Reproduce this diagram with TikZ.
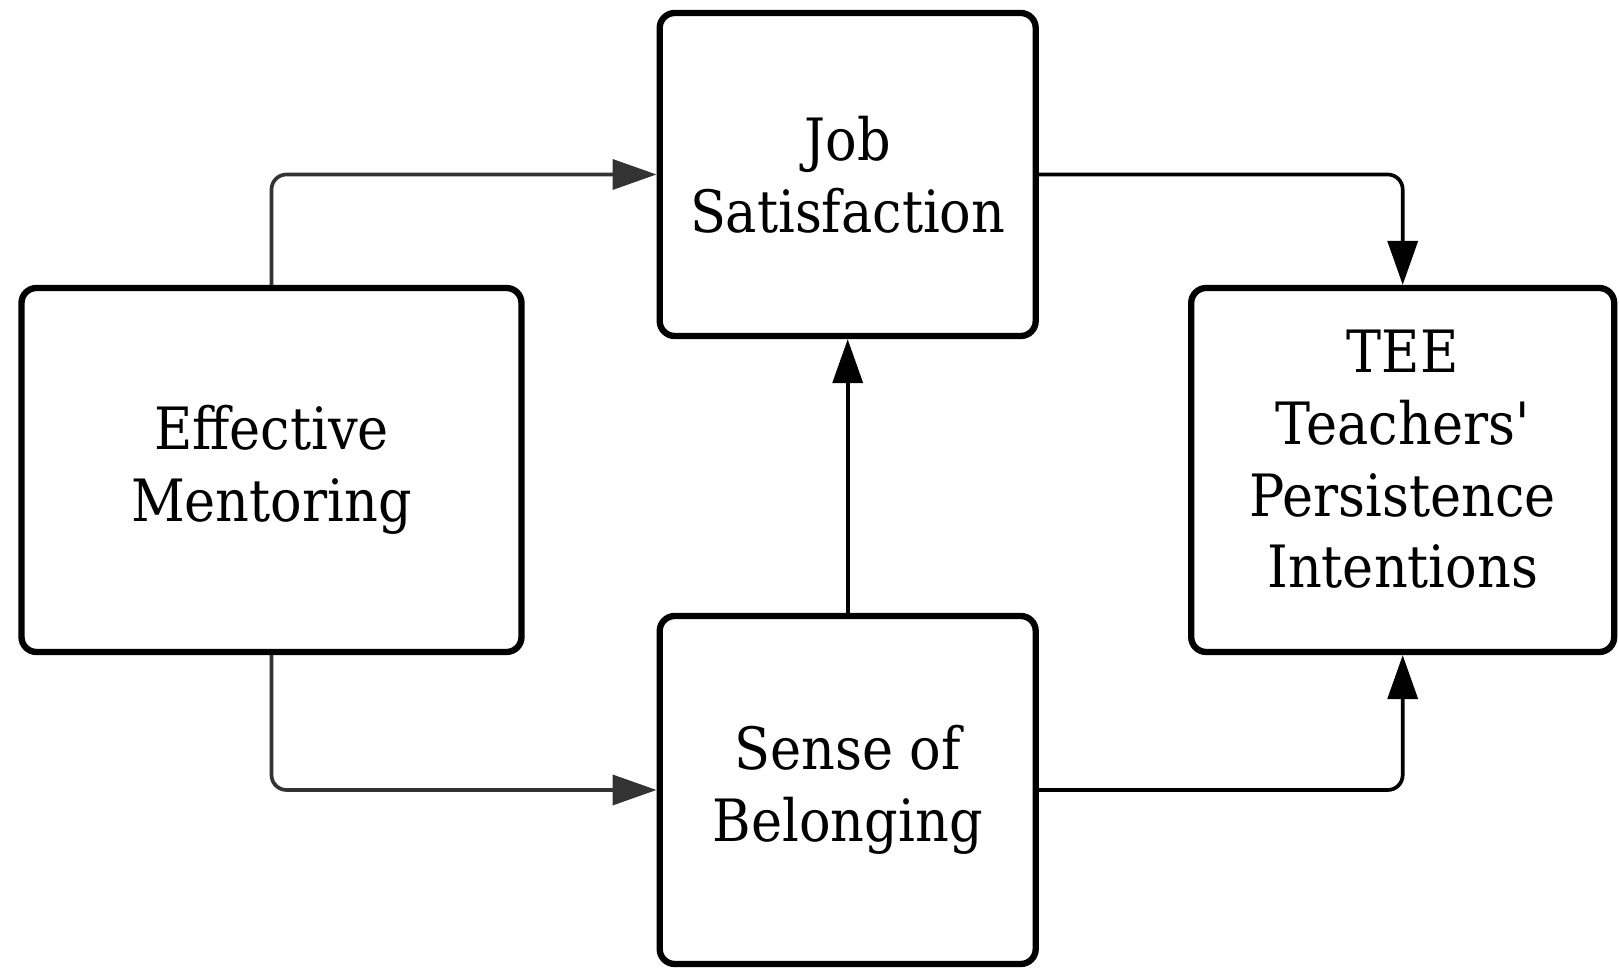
\documentclass[tikz,border=0pt]{standalone}
\usepackage{fontspec}
\setmainfont{DejaVu Serif Condensed}
\usepackage{xcolor}
\usetikzlibrary{
    arrows.meta,
    positioning
}
\definecolor{linkgrey}{HTML}{333333}
\tikzset{factor/.style={draw=black, line width=1.8pt, rounded corners=0.15cm, align=center, inner sep=0pt, font=\fontsize{16.6}{20.4}\selectfont}}
\tikzset{link/.style={line width=1.05pt, rounded corners=0.15cm, -{Triangle[length=0.44cm, width=0.3cm]}}}

\begin{document}
\begin{tikzpicture}
    \useasboundingbox (0, 0) rectangle (16.19, 9.70);
    \node[factor, minimum width=5.0cm, minimum height=3.64cm] (em) at (2.715, 5.0) {Effective\\Mentoring};
    \node[factor, minimum width=3.76cm, minimum height=3.23cm] (js) at (8.477, 7.955) {Job\\Satisfaction};
    \node[factor, minimum width=3.76cm, minimum height=3.48cm] (sb) at (8.477, 1.80) {Sense of\\Belonging};
    \node[factor, minimum width=4.23cm, minimum height=3.64cm] (tee) at (14.027, 5.0) {TEE\\Teachers\textquotesingle\\Persistence\\Intentions\\[-0.5cm]};
    % mentoring feeds both mediators
    \draw[link, color=linkgrey] (em.north) |- (js.west);
    \draw[link, color=linkgrey] (em.south) |- (sb.west);
    \draw[link] (sb.north) -- (js.south);
    % mediators to outcome
    \draw[link] (js.east) -| (tee.north);
    \draw[link] (sb.east) -| (tee.south);
\end{tikzpicture}
\end{document}
